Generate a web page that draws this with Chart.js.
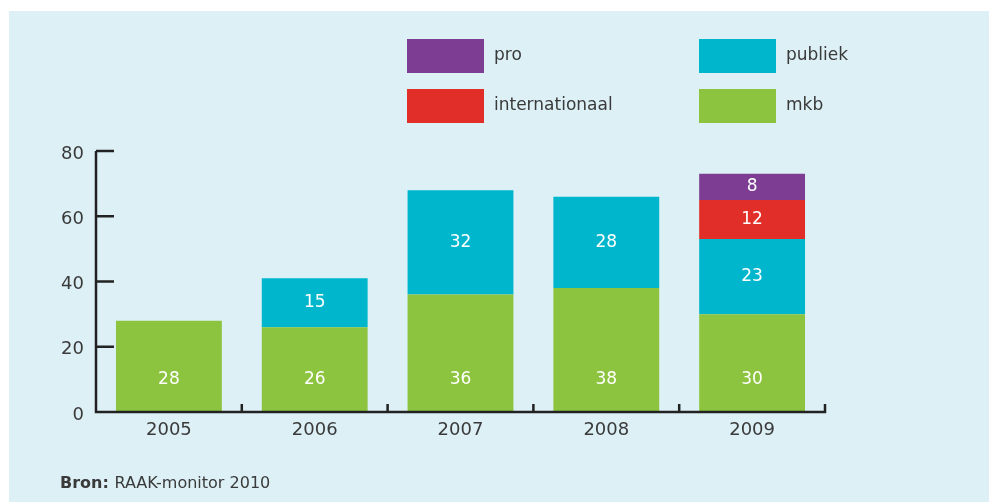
<!DOCTYPE html>
<html lang="nl">
<head>
<meta charset="UTF-8">
<script src="https://cdn.jsdelivr.net/npm/chart.js"></script>
<title>RAAK</title>
<style>
  html, body { margin: 0; padding: 0; background: #ffffff; }
  #wrap { position: relative; width: 989px; height: 502px; }
</style>
</head>
<body>
<div id="wrap"><canvas id="raak" width="989" height="502"></canvas></div>
<script>
// jaren en aantallen per regeling
var years = ['2005', '2006', '2007', '2008', '2009'];
var mkb = [28, 26, 36, 38, 30];
var publiek = [null, 15, 32, 28, 23];
var internationaal = [null, null, null, null, 12];
var pro = [null, null, null, null, 8];
var yTicks = [0, 20, 40, 60, 80];

var FONT = '"DejaVu Sans", sans-serif';
var INK = '#3a3a3a';
var AXIS = '#222222';

// lichtblauw vlak achter de grafiek
var bgPlugin = {
  id: 'bg',
  beforeDraw: function(chart) {
    var c = chart.ctx;
    c.save();
    c.fillStyle = '#dcf0f6';
    c.fillRect(9, 11, chart.width - 9, chart.height - 11);
    c.restore();
  }
};

// assen met streepjes naar binnen, y-labels iets onder het streepje
var axisPlugin = {
  id: 'axes',
  afterDatasetsDraw: function(chart) {
    var c = chart.ctx, x = chart.scales.x, y = chart.scales.y;
    var x0 = x.left, x1 = x.right, y0 = y.getPixelForValue(0), yTop = y.getPixelForValue(80);
    c.save();
    c.strokeStyle = AXIS;
    c.lineWidth = 2.5;
    c.beginPath();
    c.moveTo(x0, yTop);
    c.lineTo(x0, y0);
    c.lineTo(x1, y0);
    c.lineTo(x1, y0 - 8);
    yTicks.forEach(function(v) {
      var py = y.getPixelForValue(v);
      if (v > 0) { c.moveTo(x0, py); c.lineTo(x0 + 18, py); }
    });
    for (var i = 1; i < years.length; i++) {
      var px = (x.getPixelForTick(i - 1) + x.getPixelForTick(i)) / 2;
      c.moveTo(px, y0);
      c.lineTo(px, y0 - 8);
    }
    c.stroke();
    c.fillStyle = INK;
    c.font = '18px ' + FONT;
    c.textAlign = 'right';
    c.textBaseline = 'middle';
    yTicks.forEach(function(v) {
      c.fillText(String(v), x0 - 12, y.getPixelForValue(v) + 3);
    });
    c.restore();
  }
};

// waarden in de staven
var valuePlugin = {
  id: 'values',
  afterDatasetsDraw: function(chart) {
    var c = chart.ctx, y = chart.scales.y;
    c.save();
    c.fillStyle = '#ffffff';
    c.font = '17px ' + FONT;
    c.textAlign = 'center';
    c.textBaseline = 'middle';
    chart.data.datasets.forEach(function(ds, di) {
      var meta = chart.getDatasetMeta(di);
      meta.data.forEach(function(bar, i) {
        var v = ds.data[i];
        if (v == null) return;
        var py = di === 0 ? y.getPixelForValue(10) : (bar.y + bar.base) / 2;
        c.fillText(String(v), bar.x, py);
      });
    });
    c.restore();
  }
};

// legenda in twee kolommen, plus bronvermelding
var legendPlugin = {
  id: 'legendBoxes',
  afterDraw: function(chart) {
    var c = chart.ctx;
    var ds = chart.data.datasets;
    var order = [3, 2, 1, 0];
    c.save();
    c.font = '17px ' + FONT;
    c.textBaseline = 'middle';
    c.textAlign = 'left';
    order.forEach(function(di, k) {
      var col = Math.floor(k / 2), row = k % 2;
      var bx = 407 + col * 292, by = 39 + row * 50;
      c.fillStyle = ds[di].backgroundColor;
      c.fillRect(bx, by, 77, 34);
      c.fillStyle = INK;
      c.fillText(ds[di].label, bx + 87, by + 17);
    });
    c.font = 'bold 16px ' + FONT;
    c.fillText('Bron:', 60, 484);
    var w = c.measureText('Bron: ').width;
    c.font = '16px ' + FONT;
    c.fillText('RAAK-monitor 2010', 60 + w, 484);
    c.restore();
  }
};

new Chart(document.getElementById('raak').getContext('2d'), {
  type: 'bar',
  data: {
    labels: years,
    datasets: [
      { label: 'mkb', data: mkb, backgroundColor: '#8dc43f' },
      { label: 'publiek', data: publiek, backgroundColor: '#00b6cc' },
      { label: 'internationaal', data: internationaal, backgroundColor: '#e12e28' },
      { label: 'pro', data: pro, backgroundColor: '#7c3d93' }
    ]
  },
  options: {
    responsive: false,
    animation: false,
    layout: { padding: { top: 151, right: 164, left: 0, bottom: 0 } },
    datasets: { bar: { categoryPercentage: 1, barPercentage: 0.726, borderWidth: 0 } },
    plugins: { legend: { display: false }, tooltip: { enabled: false } },
    scales: {
      x: {
        stacked: true,
        grid: { display: false, drawTicks: false },
        border: { display: false },
        ticks: { color: INK, font: { family: FONT, size: 18 }, padding: 8 },
        afterFit: function(s) { s.height = 90; }
      },
      y: {
        stacked: true,
        min: 0, max: 80,
        afterBuildTicks: function(s) { s.ticks = yTicks.map(function(v) { return { value: v }; }); },
        grid: { display: false, drawTicks: false },
        border: { display: false },
        ticks: { display: false },
        afterFit: function(s) { s.width = 96; }
      }
    }
  },
  plugins: [bgPlugin, axisPlugin, valuePlugin, legendPlugin]
});
</script>
</body>
</html>
